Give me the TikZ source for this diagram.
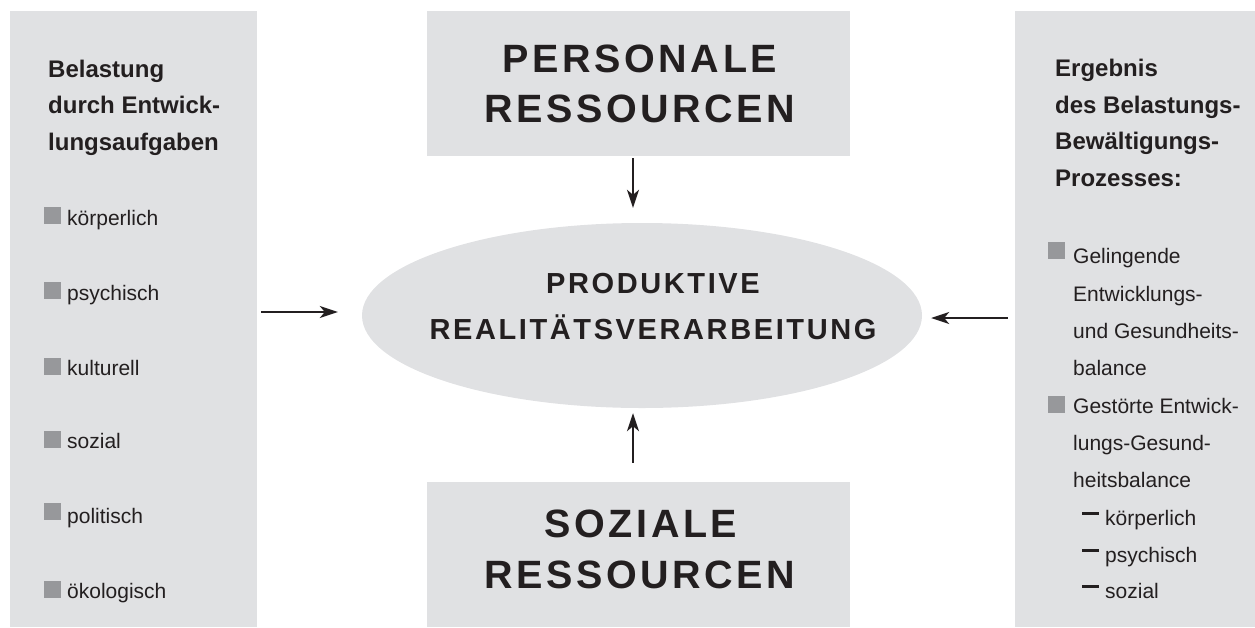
\documentclass[tikz,border=0pt]{standalone}
\usepackage{fontspec}
\setmainfont{Liberation Sans}
\newfontfamily\spacedfont[LetterSpace=9]{Liberation Sans}
\usetikzlibrary{shapes.geometric,arrows.meta}
\definecolor{panelgray}{RGB}{224,225,227}
\definecolor{sqgray}{RGB}{151,152,155}
\definecolor{ink}{RGB}{35,31,32}
\tikzset{
  panel/.style={rectangle, fill=panelgray, draw=none, inner sep=0pt},
  head/.style={font=\fontsize{24}{28}\selectfont\bfseries, text=ink, anchor=base west, inner sep=0pt},
  item/.style={font=\fontsize{21}{25}\selectfont, text=ink, anchor=base west, inner sep=0pt},
  sq/.style={rectangle, fill=sqgray, draw=none, minimum size=17pt, inner sep=0pt},
  bigtxt/.style={font={\spacedfont\bfseries\fontsize{39.5}{44}\selectfont}, text=ink, anchor=base, inner sep=0pt},
  midtxt/.style={font={\spacedfont\bfseries\fontsize{29}{33}\selectfont}, text=ink, anchor=base, inner sep=0pt},
  arr/.style={draw=ink, line width=2pt, -{Stealth[length=18pt,width=12pt,inset=5pt]}}
}
\newcommand{\mydash}{\rule[10.5pt]{17pt}{2.5pt}\hspace{6pt}}
\begin{document}
\begin{tikzpicture}[x=1pt,y=-1pt]
\useasboundingbox (0,0) rectangle (1255,627);
% panels and boxes
\node[panel, minimum width=247pt, minimum height=616pt] (lp) at (133.5,319) {};
\node[panel, minimum width=240pt, minimum height=616pt] (rp) at (1135,319) {};
\node[panel, minimum width=423pt, minimum height=145pt] (pers) at (638.5,83.5) {};
\node[panel, minimum width=423pt, minimum height=145pt] (soz) at (638.5,554.5) {};
\node[ellipse, fill=panelgray, draw=none, minimum width=560pt, minimum height=185pt, inner sep=0pt] (el) at (642,315.5) {};
% box texts
\node[bigtxt] (persA) at (640,72) {PERSONALE};
\node[bigtxt] (persB) at (640,122) {RESSOURCEN};
\node[bigtxt] (sozA) at (641,537) {SOZIALE};
\node[bigtxt] (sozB) at (640,588) {RESSOURCEN};
\node[midtxt] (elA) at (653,293) {PRODUKTIVE};
\node[midtxt] (elB) at (653,339) {REALITÄTSVERARBEITUNG};
% left panel
\node[head] (lh1) at (48,77) {Belastung};
\node[head] (lh2) at (48,113) {durch Entwick-};
\node[head] (lh3) at (48,150) {lungsaufgaben};
\node[sq] (ls1) at (52.5,215.5) {};
\node[item] (li1) at (67,225) {körperlich};
\node[sq] (ls2) at (52.5,290.5) {};
\node[item] (li2) at (67,300) {psychisch};
\node[sq] (ls3) at (52.5,366.5) {};
\node[item] (li3) at (67,375) {kulturell};
\node[sq] (ls4) at (52.5,439.5) {};
\node[item] (li4) at (67,448) {sozial};
\node[sq] (ls5) at (52.5,511.5) {};
\node[item] (li5) at (67,523) {politisch};
\node[sq] (ls6) at (52.5,589.5) {};
\node[item] (li6) at (67,598) {ökologisch};
% right panel
\node[head] (rh1) at (1055,76) {Ergebnis};
\node[head] (rh2) at (1055,113) {des Belastungs-};
\node[head] (rh3) at (1055,149) {Bewältigungs-};
\node[head] (rh4) at (1055,186) {Prozesses:};
\node[sq] (rs1) at (1056.5,250.5) {};
\node[item] (ri1) at (1073,263) {Gelingende};
\node[item] (ri2) at (1073,301) {Entwicklungs-};
\node[item] (ri3) at (1073,338) {und Gesundheits-};
\node[item] (ri4) at (1073,375) {balance};
\node[sq] (rs2) at (1056.5,404.5) {};
\node[item] (ri5) at (1073,413) {Gestörte Entwick-};
\node[item] (ri6) at (1073,450) {lungs-Gesund-};
\node[item] (ri7) at (1073,487) {heitsbalance};
\node[item] (ri8) at (1082,525) {\mydash körperlich};
\node[item] (ri9) at (1082,562) {\mydash psychisch};
\node[item] (ri10) at (1082,598) {\mydash sozial};
% arrows
\draw[arr, shorten <=2pt, shorten >=15pt] ([xshift=-5.5pt]pers.south) -- ([xshift=-5.5pt]pers.south |- el.north);
\draw[arr, shorten <=19pt, shorten >=5pt] ([xshift=-5.5pt]soz.north) -- ([xshift=-5.5pt]soz.north |- el.south);
\draw[arr, shorten <=4pt, shorten >=24pt] ([yshift=3.5pt]lp.east |- el.west) -- ([yshift=3.5pt]el.west);
\draw[arr, shorten <=7pt, shorten >=9pt] ([yshift=-2.5pt]rp.west |- el.east) -- ([yshift=-2.5pt]el.east);
\end{tikzpicture}
\end{document}
